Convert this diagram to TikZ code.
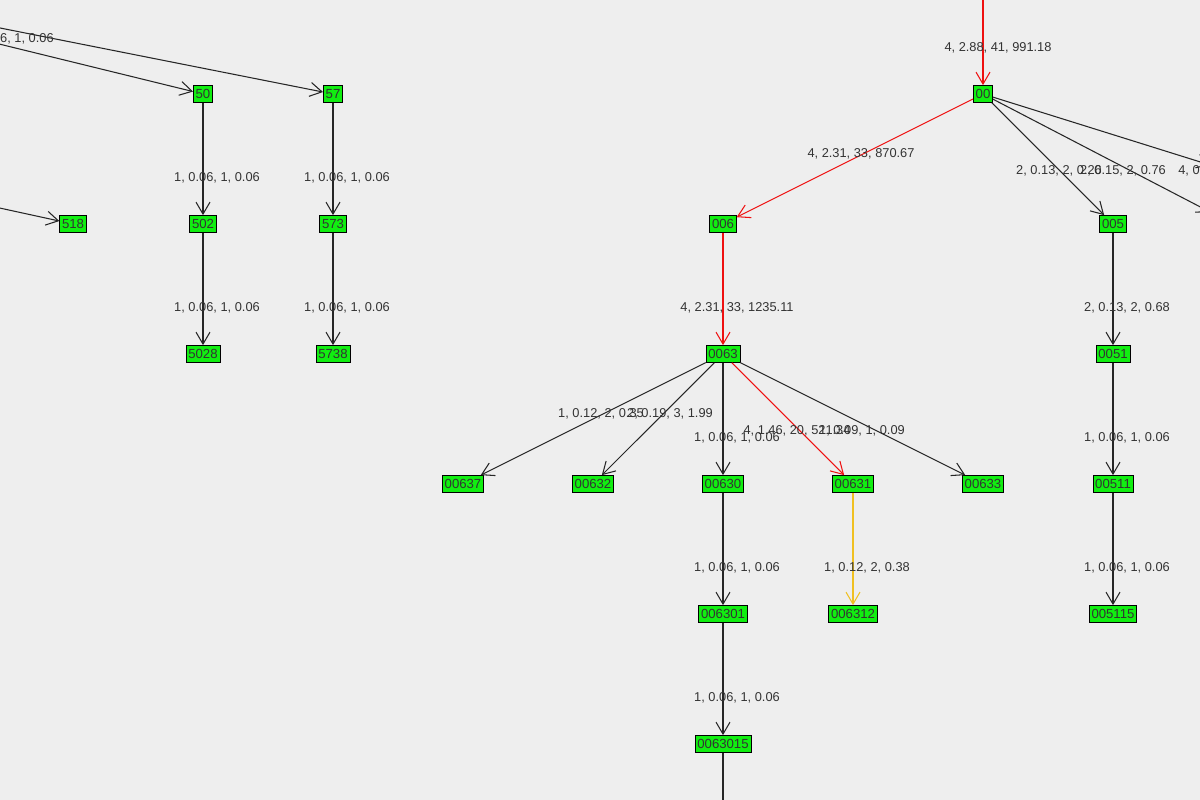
\documentclass[tikz,border=0pt]{standalone}
\usepackage{fontspec}
\setmainfont{Liberation Sans}
\usetikzlibrary{arrows.meta}
\definecolor{bgc}{HTML}{EEEEEE}
\definecolor{nodec}{HTML}{11EE11}
\definecolor{redc}{HTML}{EE1111}
\definecolor{yelc}{HTML}{F0C020}
\definecolor{txtc}{HTML}{333333}

\begin{document}
\begin{tikzpicture}
[
	              x = 0.02cm,
	              y = -0.02cm,
	           >= {Straight Barb[length=2.4mm,width=2.8mm]},
	    box/.style = { draw=black, fill=nodec, inner sep=1.3pt, minimum height=0.34cm, font=\fontsize{7.5}{9}\selectfont, text=black!80 },
	    lbl/.style = { font=\fontsize{7.3}{9}\selectfont, text=txtc, inner sep=0pt },
	    arc/.style = { ->, draw=black!85, line width=0.6pt },
	 redarc/.style = { ->, draw=redc, line width=0.6pt },
	 yelarc/.style = { ->, draw=yelc, line width=0.6pt }
]
	\fill[bgc] (0,0) rectangle (1200,800);
	\useasboundingbox (0,0) rectangle (1200,800);
	\clip (0,0) rectangle (1200,800);

	% right tree
	\node (00)      at (983,94)  [box] {00};
	\node (006)     at (723,224) [box] {006};
	\node (005)     at (1113,224)[box] {005};
	\node (0063)    at (723,354) [box] {0063};
	\node (0051)    at (1113,354)[box] {0051};
	\node (00637)   at (463,484) [box] {00637};
	\node (00632)   at (593,484) [box] {00632};
	\node (00630)   at (723,484) [box] {00630};
	\node (00631)   at (853,484) [box] {00631};
	\node (00633)   at (983,484) [box] {00633};
	\node (00511)   at (1113,484)[box] {00511};
	\node (006301)  at (723,614) [box] {006301};
	\node (006312)  at (853,614) [box] {006312};
	\node (005115)  at (1113,614)[box] {005115};
	\node (0063015) at (723,744) [box] {0063015};

	\coordinate (in00)  at (983,-5);
	\coordinate (outA)  at (1210,165);
	\coordinate (outB)  at (1210,212);
	\coordinate (outC)  at (723,805);

	\draw [redarc] (in00) -- (00);
	\draw [redarc] (00) -- (006);
	\draw [arc] (00) -- (005);
	\draw [arc] (00) -- (outA);
	\draw [arc] (00) -- (outB);
	\draw [redarc] (006) -- (0063);
	\draw [arc] (005) -- (0051);
	\draw [arc] (0051) -- (00511);
	\draw [arc] (00511) -- (005115);
	\draw [arc] (0063) -- (00637);
	\draw [arc] (0063) -- (00632);
	\draw [arc] (0063) -- (00630);
	\draw [redarc] (0063) -- (00631);
	\draw [arc] (0063) -- (00633);
	\draw [arc] (00630) -- (006301);
	\draw [yelarc] (00631) -- (006312);
	\draw [arc] (006301) -- (0063015);
	\draw [draw=black!85, line width=0.6pt] (0063015) -- (outC);

	\node (l1)  at (998,48)  [lbl] {4, 2.88, 41, 991.18};
	\node (l2)  at (861,154) [lbl] {4, 2.31, 33, 870.67};
	\node (l3)  at (1059,171)[lbl] {2, 0.13, 2, 0.26};
	\node (l4)  at (1123,171)[lbl] {2, 0.15, 2, 0.76};
	\node (l5)  at (1178,171)[lbl, anchor=west] {4, 0.};
	\node (l6)  at (737,308) [lbl] {4, 2.31, 33, 1235.11};
	\node (l7)  at (1127,308)[lbl] {2, 0.13, 2, 0.68};
	\node (l8)  at (601,414) [lbl] {1, 0.12, 2, 0.35};
	\node (l9)  at (670,414) [lbl] {2, 0.19, 3, 1.99};
	\node (l10) at (737,438) [lbl] {1, 0.06, 1, 0.06};
	\node (l11) at (797,431) [lbl] {4, 1.46, 20, 521.34};
	\node (l12) at (862,431) [lbl] {1, 0.09, 1, 0.09};
	\node (l13) at (1127,438)[lbl] {1, 0.06, 1, 0.06};
	\node (l14) at (737,568) [lbl] {1, 0.06, 1, 0.06};
	\node (l15) at (867,568) [lbl] {1, 0.12, 2, 0.38};
	\node (l16) at (1127,568)[lbl] {1, 0.06, 1, 0.06};
	\node (l17) at (737,698) [lbl] {1, 0.06, 1, 0.06};

	% left tree
	\node (50)   at (203,94)  [box] {50};
	\node (57)   at (333,94)  [box] {57};
	\node (518)  at (73,224)  [box] {518};
	\node (502)  at (203,224) [box] {502};
	\node (573)  at (333,224) [box] {573};
	\node (5028) at (203,354) [box] {5028};
	\node (5738) at (333,354) [box] {5738};

	\coordinate (in50)  at (-5,43);
	\coordinate (in57)  at (-5,27);
	\coordinate (in518) at (-5,207);

	\draw [arc] (in50) -- (50);
	\draw [arc] (in57) -- (57);
	\draw [arc] (in518) -- (518);
	\draw [arc] (50) -- (502);
	\draw [arc] (57) -- (573);
	\draw [arc] (502) -- (5028);
	\draw [arc] (573) -- (5738);

	\node (l18) at (54,39)   [lbl, anchor=east] {1, 0.06, 1, 0.06};
	\node (l19) at (217,178) [lbl] {1, 0.06, 1, 0.06};
	\node (l20) at (347,178) [lbl] {1, 0.06, 1, 0.06};
	\node (l21) at (217,308) [lbl] {1, 0.06, 1, 0.06};
	\node (l22) at (347,308) [lbl] {1, 0.06, 1, 0.06};
\end{tikzpicture}
\end{document}
